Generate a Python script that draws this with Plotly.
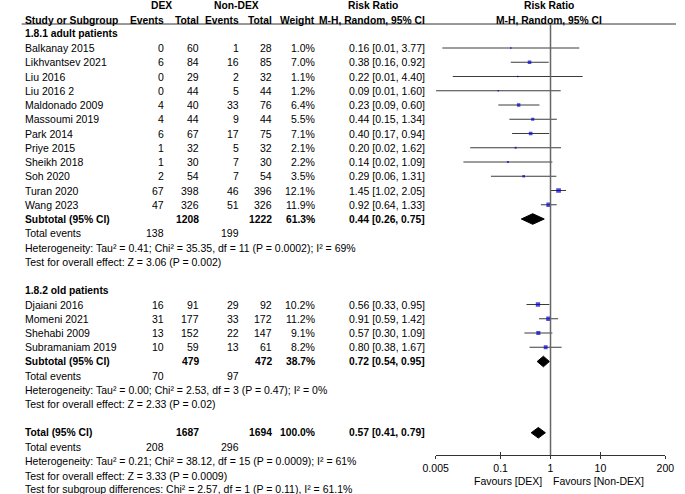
import plotly.graph_objects as go

# ---- data ----
group1_title = '1.8.1 adult patients'
group1_studies = ['Balkanay 2015', 'Likhvantsev 2021', 'Liu 2016', 'Liu 2016 2',
                  'Maldonado 2009', 'Massoumi 2019', 'Park 2014', 'Priye 2015',
                  'Sheikh 2018', 'Soh 2020', 'Turan 2020', 'Wang 2023']
group1_ev_dex = [0, 6, 0, 0, 4, 4, 6, 1, 1, 2, 67, 47]
group1_n_dex = [60, 84, 29, 44, 40, 44, 67, 32, 30, 54, 398, 326]
group1_ev_ctl = [1, 16, 2, 5, 33, 9, 17, 5, 7, 7, 46, 51]
group1_n_ctl = [28, 85, 32, 44, 76, 44, 75, 32, 30, 54, 396, 326]
group1_weight = [1.0, 7.0, 1.1, 1.2, 6.4, 5.5, 7.1, 2.1, 2.2, 3.5, 12.1, 11.9]
group1_rr = [0.16, 0.38, 0.22, 0.09, 0.23, 0.44, 0.40, 0.20, 0.14, 0.29, 1.45, 0.92]
# lower limits as drawn (the table rounds them)
group1_lo = [0.0068, 0.16, 0.011, 0.0051, 0.09, 0.15, 0.17, 0.0246, 0.018, 0.064, 1.02, 0.64]
group1_hi = [3.77, 0.92, 4.40, 1.60, 0.60, 1.34, 0.94, 1.62, 1.09, 1.31, 2.05, 1.33]
group1_ci_text = ['0.16 [0.01, 3.77]', '0.38 [0.16, 0.92]', '0.22 [0.01, 4.40]',
                  '0.09 [0.01, 1.60]', '0.23 [0.09, 0.60]', '0.44 [0.15, 1.34]',
                  '0.40 [0.17, 0.94]', '0.20 [0.02, 1.62]', '0.14 [0.02, 1.09]',
                  '0.29 [0.06, 1.31]', '1.45 [1.02, 2.05]', '0.92 [0.64, 1.33]']
group1_sub = dict(n_dex=1208, n_ctl=1222, weight='61.3%', rr=0.44, lo=0.26, hi=0.75,
                  ev_dex=138, ev_ctl=199)
group1_het = 'Heterogeneity: Tau² = 0.41; Chi² = 35.35, df = 11 (P = 0.0002); I² = 69%'
group1_test = 'Test for overall effect: Z = 3.06 (P = 0.002)'

group2_title = '1.8.2 old patients'
group2_studies = ['Djaiani 2016', 'Momeni 2021', 'Shehabi 2009', 'Subramaniam 2019']
group2_ev_dex = [16, 31, 13, 10]
group2_n_dex = [91, 177, 152, 59]
group2_ev_ctl = [29, 33, 22, 13]
group2_n_ctl = [92, 172, 147, 61]
group2_weight = [10.2, 11.2, 9.1, 8.2]
group2_rr = [0.56, 0.91, 0.57, 0.80]
group2_lo = [0.33, 0.59, 0.30, 0.38]
group2_hi = [0.95, 1.42, 1.09, 1.67]
group2_ci_text = ['0.56 [0.33, 0.95]', '0.91 [0.59, 1.42]', '0.57 [0.30, 1.09]',
                  '0.80 [0.38, 1.67]']
group2_sub = dict(n_dex=479, n_ctl=472, weight='38.7%', rr=0.72, lo=0.54, hi=0.95,
                  ev_dex=70, ev_ctl=97)
group2_het = 'Heterogeneity: Tau² = 0.00; Chi² = 2.53, df = 3 (P = 0.47); I² = 0%'
group2_test = 'Test for overall effect: Z = 2.33 (P = 0.02)'

total = dict(n_dex=1687, n_ctl=1694, weight='100.0%', rr=0.57, lo=0.41, hi=0.79,
             ev_dex=208, ev_ctl=296)
total_het = 'Heterogeneity: Tau² = 0.21; Chi² = 38.12, df = 15 (P = 0.0009); I² = 61%'
total_test = 'Test for overall effect: Z = 3.33 (P = 0.0009)'
subgroup_test = 'Test for subgroup differences: Chi² = 2.57, df = 1 (P = 0.11), I² = 61.1%'

axis_ticks = [0.005, 0.1, 1, 10, 200]
axis_ticktext = ['0.005', '0.1', '1', '10', '200']

# ---- layout in pixels ----
W, H = 685, 494
AXIS_Y = 455
X_LEFT, X_RIGHT = 436.7, 674
FONT = 'Arial, Liberation Sans, sans-serif'
FS = 10.5
FS_BOLD = 10.3

COL_NAME = 11
COL_EV_DEX = 157
COL_N_DEX = 193
COL_EV_CTL = 235
COL_N_CTL = 269
COL_WEIGHT = 313
COL_CI = 427


def row_y(k):
    return 33.75 + 14.25 * k


annotations = []


def txt(x, y, s, anchor='right', bold=False):
    size = FS
    if bold:
        s = '<b>' + s + '</b>'
        size = FS_BOLD
    annotations.append(dict(
        x=x / W, y=1 - y / H, xref='paper', yref='paper', text=s,
        xanchor=anchor, yanchor='middle', align=anchor, showarrow=False,
        borderpad=0, font=dict(family=FONT, size=size, color='black')))


# headers
txt(153, 5.5, 'DEX', 'center', True)
txt(231, 5.5, 'Non-DEX', 'center', True)
txt(372, 5.5, 'Risk Ratio', 'center', True)
txt(554, 5.5, 'Risk Ratio', 'center', True)
txt(COL_NAME, 20, 'Study or Subgroup', 'left', True)
txt(COL_EV_DEX, 20, 'Events', bold=True)
txt(COL_N_DEX, 20, 'Total', bold=True)
txt(COL_EV_CTL, 20, 'Events', bold=True)
txt(COL_N_CTL, 20, 'Total', bold=True)
txt(COL_WEIGHT, 20, 'Weight', bold=True)
txt(371, 20, 'M-H, Random, 95% CI', 'center', True)
txt(554, 20, 'M-H, Random, 95% CI', 'center', True)

line_x, line_y = [], []
sq_x, sq_y, sq_size = [], [], []
dia_x, dia_y = [], []
DIA_H = 5.3


def add_diamond(s, y):
    dia_x.extend([s['lo'], s['rr'], s['hi'], s['rr'], s['lo'], None])
    dia_y.extend([y, y - DIA_H, y, y + DIA_H, y, None])


def add_group(k, title, names, ev_d, n_d, ev_c, n_c, wt, rr, lo, hi, ci_text,
              sub, het, test):
    txt(COL_NAME, row_y(k), title, 'left', True)
    k += 1
    for i, name in enumerate(names):
        y = row_y(k)
        txt(COL_NAME, y, name, 'left')
        txt(COL_EV_DEX, y, str(ev_d[i]))
        txt(COL_N_DEX, y, str(n_d[i]))
        txt(COL_EV_CTL, y, str(ev_c[i]))
        txt(COL_N_CTL, y, str(n_c[i]))
        txt(COL_WEIGHT, y, f'{wt[i]:.1f}%')
        txt(COL_CI, y, ci_text[i])
        line_x.extend([lo[i], hi[i], None])
        line_y.extend([y, y, None])
        sq_x.append(rr[i])
        sq_y.append(y)
        sq_size.append(max(1.6, 1.35 * wt[i] ** 0.5))
        k += 1
    y = row_y(k)
    txt(COL_NAME, y, 'Subtotal (95% CI)', 'left', True)
    txt(COL_N_DEX, y, str(sub['n_dex']), bold=True)
    txt(COL_N_CTL, y, str(sub['n_ctl']), bold=True)
    txt(COL_WEIGHT, y, sub['weight'], bold=True)
    txt(COL_CI, y, f"{sub['rr']:.2f} [{sub['lo']:.2f}, {sub['hi']:.2f}]", bold=True)
    add_diamond(sub, y)
    k += 1
    y = row_y(k)
    txt(COL_NAME, y, 'Total events', 'left')
    txt(COL_EV_DEX, y, str(sub['ev_dex']))
    txt(COL_EV_CTL, y, str(sub['ev_ctl']))
    k += 1
    txt(COL_NAME, row_y(k), het, 'left')
    k += 1
    txt(COL_NAME, row_y(k), test, 'left')
    return k + 2


k = add_group(0, group1_title, group1_studies, group1_ev_dex, group1_n_dex,
              group1_ev_ctl, group1_n_ctl, group1_weight, group1_rr, group1_lo,
              group1_hi, group1_ci_text, group1_sub, group1_het, group1_test)
k = add_group(k, group2_title, group2_studies, group2_ev_dex, group2_n_dex,
              group2_ev_ctl, group2_n_ctl, group2_weight, group2_rr, group2_lo,
              group2_hi, group2_ci_text, group2_sub, group2_het, group2_test)

y = row_y(k)
txt(COL_NAME, y, 'Total (95% CI)', 'left', True)
txt(COL_N_DEX, y, str(total['n_dex']), bold=True)
txt(COL_N_CTL, y, str(total['n_ctl']), bold=True)
txt(COL_WEIGHT, y, total['weight'], bold=True)
txt(COL_CI, y, f"{total['rr']:.2f} [{total['lo']:.2f}, {total['hi']:.2f}]", bold=True)
add_diamond(total, y)
y = row_y(k + 1)
txt(COL_NAME, y, 'Total events', 'left')
txt(COL_EV_DEX, y, str(total['ev_dex']))
txt(COL_EV_CTL, y, str(total['ev_ctl']))
txt(COL_NAME, row_y(k + 2), total_het, 'left')
txt(COL_NAME, row_y(k + 3), total_test, 'left')
txt(COL_NAME, row_y(k + 4) - 0.75, subgroup_test, 'left')

txt(548, 481, 'Favours [DEX]', 'right')
txt(557, 481, 'Favours [Non-DEX]', 'left')

fig = go.Figure()
fig.add_trace(go.Scatter(x=line_x, y=line_y, mode='lines',
                         line=dict(color='#3c3c3c', width=1), hoverinfo='skip'))
fig.add_trace(go.Scatter(x=sq_x, y=sq_y, mode='markers',
                         marker=dict(symbol='square', size=sq_size, color='#0000d0',
                                     line=dict(width=0))))
fig.add_trace(go.Scatter(x=dia_x, y=dia_y, mode='lines', fill='toself',
                         fillcolor='black', line=dict(color='black', width=1),
                         hoverinfo='skip'))

xrange = [-2.30103, 2.30103]
fig.update_layout(
    width=W, height=H,
    margin=dict(l=0, r=0, t=0, b=0),
    paper_bgcolor='white', plot_bgcolor='rgba(0,0,0,0)',
    showlegend=False,
    annotations=annotations,
    xaxis=dict(type='log', range=xrange, domain=[X_LEFT / W, X_RIGHT / W],
               anchor='y', showgrid=False, zeroline=False,
               showline=True, linecolor='#333333', linewidth=1,
               ticks='outside', ticklen=3, tickcolor='#333333', tickwidth=1,
               tickvals=axis_ticks, ticktext=axis_ticktext,
               tickfont=dict(family=FONT, size=FS, color='black')),
    xaxis2=dict(type='log', range=xrange, domain=[X_LEFT / W, X_RIGHT / W],
                overlaying='x', anchor='y', side='bottom', showgrid=False,
                zeroline=False, showline=False, ticks='inside', ticklen=3,
                tickcolor='#333333', tickwidth=1, tickvals=axis_ticks,
                showticklabels=False),
    yaxis=dict(range=[AXIS_Y, 0], domain=[1 - AXIS_Y / H, 1], visible=False,
               showgrid=False, zeroline=False),
    shapes=[
        dict(type='line', xref='paper', yref='paper', x0=9 / W, x1=1,
             y0=1 - 24 / H, y1=1 - 24 / H, line=dict(color='#333333', width=1)),
        dict(type='line', xref='x', yref='y', x0=1, x1=1, y0=24, y1=AXIS_Y,
             line=dict(color='#666666', width=1.5)),
    ],
)
fig.add_trace(go.Scatter(x=[1], y=[AXIS_Y], xaxis='x2', mode='markers',
                         marker=dict(opacity=0), hoverinfo='skip'))

# the page's default body margin would push the 685x494 figure off the window
fig.write_html('out.html', config={'displayModeBar': False},
               post_script="document.body.style.margin = '0';")
